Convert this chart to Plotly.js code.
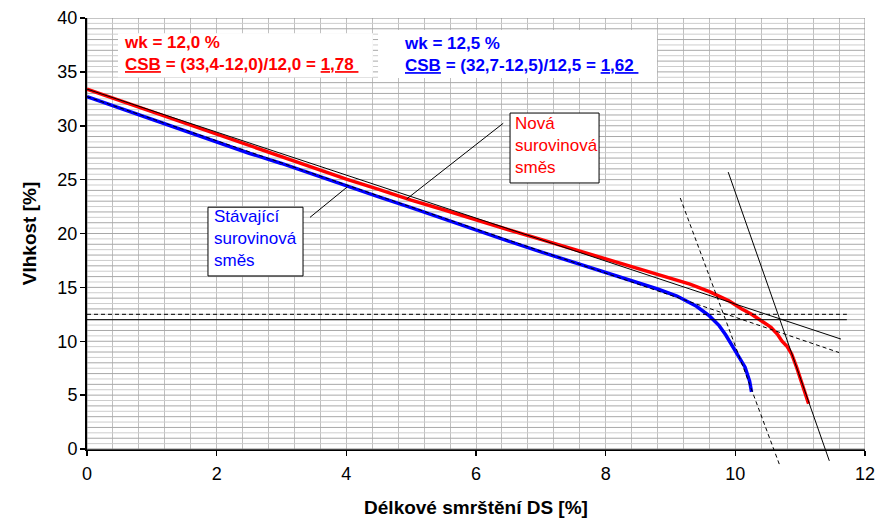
<!DOCTYPE html>
<html><head><meta charset="utf-8">
<script src="https://cdn.plot.ly/plotly-3.0.1.min.js"></script>
<style>html,body{margin:0;padding:0;background:#fff}#chart{width:894px;height:526px}</style>
</head><body><div id="chart"></div>
<script>
// ---- data ----
const novaX = [0, 0.5, 1, 1.5, 2, 2.5, 3, 3.5, 4, 4.5, 5, 5.5, 6, 6.5, 7, 7.5, 8, 8.5, 9, 9.3, 9.6, 9.9, 10.1, 10.25, 10.4, 10.55, 10.65, 10.72, 10.8, 10.87, 10.95, 11.05, 11.13];
const novaY = [33.4, 32.35, 31.3, 30.25, 29.25, 28.2, 27.1, 26.05, 25.05, 24.1, 23.1, 22.2, 21.25, 20.35, 19.45, 18.55, 17.65, 16.75, 15.85, 15.3, 14.6, 13.75, 13.0, 12.5, 11.9, 11.3, 10.65, 10.0, 9.5, 8.8, 7.5, 5.8, 4.2];
const stavX = [0, 0.5, 1, 1.5, 2, 2.5, 3, 3.5, 4, 4.5, 5, 5.5, 6, 6.5, 7, 7.5, 8, 8.5, 8.8, 9.1, 9.4, 9.6, 9.75, 9.85, 9.95, 10.05, 10.15, 10.22, 10.25];
const stavY = [32.7, 31.65, 30.6, 29.5, 28.45, 27.45, 26.5, 25.45, 24.45, 23.4, 22.4, 21.35, 20.3, 19.3, 18.3, 17.35, 16.45, 15.45, 14.85, 14.2, 13.25, 12.35, 11.45, 10.6, 9.55, 8.6, 7.6, 6.3, 5.3];

// tangent / construction lines
const novaTanX = [0, 11.63], novaTanY = [33.4, 10.2];
const stavTanX = [0, 11.6], stavTanY = [32.7, 8.95];
const novaSteepX = [9.89, 11.45], novaSteepY = [25.7, -1.1];
const stavSteepX = [9.15, 10.69], stavSteepY = [23.3, -1.6];
const wkLineX = [0, 11.72];
const wkNova = [12.0, 12.0];
const wkStav = [12.5, 12.5];

// texts
const xTitle = 'Délkové smrštění DS [%]';
const yTitle = 'Vlhkost [%]';
const novaLabel = 'Nová<br>surovinová<br>směs';
const stavLabel = 'Stávající<br>surovinová<br>směs';
const novaCsb = '<b>wk = 12,0 %<br><u>CSB</u> = (33,4-12,0)/12,0 = <u>1,78\u00a0</u></b>';
const stavCsb = '<b>wk = 12,5 %<br><u>CSB</u> = (32,7-12,5)/12,5 = <u>1,62\u00a0</u></b>';

// ---- layout geometry ----
const W = 894, H = 526, ML = 87, MR = 29, MT = 18, MB = 59;
const axisBottomPx = 449;
const plotH = H - MT - MB;
const mainDomBottom = (H - MB - axisBottomPx) / plotH;
const yMax = 40, xMax = 12;
const pxPerUnitY = (axisBottomPx - MT) / yMax;
const y3Min = -(H - MB - axisBottomPx) / pxPerUnitY;

// horizontal grid positions (every 1 darker, every 0.5 lighter)
const gridInt = [], gridHalf = [];
for (let v = 1; v < yMax; v++) gridInt.push(v);
for (let v = 0.5; v < yMax; v += 1) gridHalf.push(v);

const FONT = 'Liberation Sans, Arial, sans-serif';
const RED = '#ff0000', BLUE = '#0000ff';
const onData = {xaxis: 'x2', yaxis: 'y3', mode: 'lines', showlegend: false, hoverinfo: 'skip'};

const traces = [
  {x: [0], y: [0], xaxis: 'x', yaxis: 'y', mode: 'markers', marker: {opacity: 0}, hoverinfo: 'skip', showlegend: false},
  Object.assign({x: stavX, y: stavY, line: {color: BLUE, width: 3.5}}, onData),
  Object.assign({x: novaX, y: novaY, line: {color: RED, width: 3.5}}, onData),
  Object.assign({x: wkLineX, y: wkNova, line: {color: '#000', width: 1}}, onData),
  Object.assign({x: wkLineX, y: wkStav, line: {color: '#000', width: 1, dash: '4px,3px'}}, onData),
  Object.assign({x: novaTanX, y: novaTanY, line: {color: '#000', width: 1}}, onData),
  Object.assign({x: stavTanX, y: stavTanY, line: {color: '#000', width: 1, dash: '4px,3px'}}, onData),
  Object.assign({x: novaSteepX, y: novaSteepY, line: {color: '#000', width: 1}}, onData),
  Object.assign({x: stavSteepX, y: stavSteepY, line: {color: '#000', width: 1, dash: '4px,3px'}}, onData)
];

// horizontal grid as layout shapes (below traces)
const R = {xref: 'x2', yref: 'y3'};
const gridShapes = [];
gridHalf.forEach(v => gridShapes.push(Object.assign({type: 'line', x0: 0, x1: xMax, y0: v, y1: v, line: {color: '#cdcdcd', width: 1}, layer: 'below'}, R)));
gridInt.forEach(v => gridShapes.push(Object.assign({type: 'line', x0: 0, x1: xMax, y0: v, y1: v, line: {color: '#a8a8a8', width: 1}, layer: 'below'}, R)));

const layout = {
  width: W, height: H,
  margin: {l: ML, r: MR, t: MT, b: MB, pad: 0},
  paper_bgcolor: '#fff', plot_bgcolor: 'rgba(0,0,0,0)',
  font: {family: FONT, color: '#000', size: 18},
  showlegend: false,
  xaxis: {
    domain: [0, 1], range: [0, xMax], anchor: 'y', tick0: 0, dtick: 2,
    ticks: 'outside', ticklen: 5, tickwidth: 1.5, tickcolor: '#000',
    showline: true, linecolor: '#000', linewidth: 2,
    showgrid: true, gridcolor: '#c0c0c0', gridwidth: 1, zeroline: false,
    minor: {dtick: 0.4, tick0: 0, showgrid: true, gridcolor: '#c0c0c0', gridwidth: 1, ticks: ''},
    tickfont: {size: 18, family: FONT}, ticklabelstandoff: 2,
    title: {text: '<b>' + xTitle + '</b>', font: {size: 19, family: FONT}, standoff: 18},
    automargin: false, fixedrange: true
  },
  yaxis: {
    domain: [mainDomBottom, 1], range: [0, yMax], anchor: 'x', tick0: 0, dtick: 5,
    ticks: 'outside', ticklen: 5, tickwidth: 1.5, tickcolor: '#000',
    showline: true, linecolor: '#000', linewidth: 2,
    showgrid: false, zeroline: false,
    tickfont: {size: 18, family: FONT}, ticklabelstandoff: -1,
    title: {text: '<b>' + yTitle + '</b>', font: {size: 19, family: FONT}, standoff: 16},
    automargin: false, fixedrange: true
  },
  xaxis2: {domain: [0, 1], range: [0, xMax], anchor: 'y3', visible: false, fixedrange: true},
  yaxis3: {domain: [0, 1], range: [y3Min, yMax], anchor: 'x2', visible: false, fixedrange: true},
  shapes: gridShapes.concat([
    Object.assign({type: 'rect', x0: 0, x1: xMax, y0: 0, y1: yMax, line: {color: '#8c8c8c', width: 1}, layer: 'below'}, R),
    Object.assign({type: 'rect', x0: 0.478, x1: 4.41, y0: 34.5, y1: 38.58, fillcolor: '#fff', line: {width: 0}, layer: 'above'}, R),
    Object.assign({type: 'rect', x0: 4.489, x1: 8.792, y0: 34.43, y1: 38.89, fillcolor: '#fff', line: {width: 0}, layer: 'above'}, R),
    Object.assign({type: 'rect', x0: 6.525, x1: 7.898, y0: 24.69, y1: 31.18, fillcolor: '#fff', line: {color: '#000', width: 1}, layer: 'above'}, R),
    Object.assign({type: 'rect', x0: 1.866, x1: 3.332, y0: 16.06, y1: 22.44, fillcolor: '#fff', line: {color: '#000', width: 1}, layer: 'above'}, R),
    Object.assign({type: 'line', x0: 6.42, y0: 30.23, x1: 4.93, y1: 23.2, line: {color: '#000', width: 1}, layer: 'above'}, R),
    Object.assign({type: 'line', x0: 3.44, y0: 21.5, x1: 4.01, y1: 24.3, line: {color: '#000', width: 1}, layer: 'above'}, R)
  ]),
  annotations: [
    Object.assign({x: 0.54, y: 36.66, xanchor: 'left', yanchor: 'middle', align: 'left', showarrow: false,
     text: novaCsb, font: {family: FONT, size: 17, color: RED}}, R),
    Object.assign({x: 4.86, y: 36.6, xanchor: 'left', yanchor: 'middle', align: 'left', showarrow: false,
     text: stavCsb, font: {family: FONT, size: 17, color: BLUE}}, R),
    Object.assign({x: 6.57, y: 28.15, xanchor: 'left', yanchor: 'middle', align: 'left', showarrow: false,
     text: novaLabel, font: {family: FONT, size: 17, color: RED}}, R),
    Object.assign({x: 1.923, y: 19.55, xanchor: 'left', yanchor: 'middle', align: 'left', showarrow: false,
     text: stavLabel, font: {family: FONT, size: 17, color: BLUE}}, R)
  ]
};

Plotly.newPlot('chart', traces, layout, {staticPlot: true, displayModeBar: false});
</script>
</body></html>
